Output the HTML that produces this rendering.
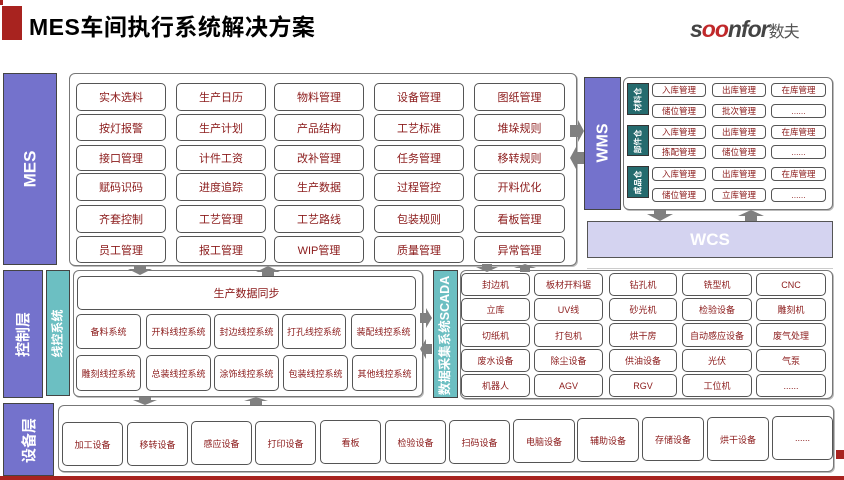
<!DOCTYPE html>
<html><head><meta charset="utf-8"><style>
*{margin:0;padding:0;box-sizing:border-box}
body{width:844px;height:480px;position:relative;background:#fff;font-family:"Liberation Sans","Noto Sans CJK SC",sans-serif;overflow:hidden}
div{position:absolute}
.c{border:1px solid #555;border-radius:5px;background:#fff;color:#8b1a1a;display:flex;align-items:center;justify-content:center;font-size:11px;white-space:nowrap}
.s{font-size:8.5px;border-radius:4px}
.m{font-size:9px}
.box{border:1px solid #777;border-radius:6px;background:#fff;box-shadow:1px 1px 0 #bbb}
.p{background:#7472cc;border:1px solid #444}
.t{background:#6cbfc2;border:1px solid #444}
.v{color:#fff;font-weight:bold;white-space:nowrap;transform:rotate(-90deg);left:50%;top:50%;position:absolute;transform-origin:center}
.g{background:#256b6e;border:1px solid #333}
</style></head><body>
<div style="left:0;top:0;width:3px;height:5px;background:#a8231f"></div>
<div style="left:2px;top:6px;width:20px;height:34px;background:#a8231f"></div>
<div style="left:29px;top:8px;font-size:23px;font-weight:bold;color:#000;letter-spacing:0.5px">MES车间执行系统解决方案</div>
<div style="left:690px;top:16px;font-size:23px;font-style:italic;font-weight:bold;color:#444;letter-spacing:-1px">s<span style="color:#c0282a">oo</span>nfor<span style="font-size:16px;font-style:normal;font-weight:normal;color:#555">数夫</span></div>

<!-- MES -->
<div class="p" style="left:3px;top:73px;width:54px;height:192px"><div class="v" style="font-size:17px;margin-left:-18px;margin-top:-10px">MES</div></div>
<div class="box" style="left:69px;top:73px;width:508px;height:193px"></div>
<div class="c" style="left:76px;top:83px;width:90px;height:28px">实木选料</div>
<div class="c" style="left:176px;top:83px;width:90px;height:28px">生产日历</div>
<div class="c" style="left:274px;top:83px;width:90px;height:28px">物料管理</div>
<div class="c" style="left:374px;top:83px;width:90px;height:28px">设备管理</div>
<div class="c" style="left:474px;top:83px;width:91px;height:28px">图纸管理</div>
<div class="c" style="left:76px;top:114px;width:90px;height:27px">按灯报警</div>
<div class="c" style="left:176px;top:114px;width:90px;height:27px">生产计划</div>
<div class="c" style="left:274px;top:114px;width:90px;height:27px">产品结构</div>
<div class="c" style="left:374px;top:114px;width:90px;height:27px">工艺标准</div>
<div class="c" style="left:474px;top:114px;width:91px;height:27px">堆垛规则</div>
<div class="c" style="left:76px;top:145px;width:90px;height:26px">接口管理</div>
<div class="c" style="left:176px;top:145px;width:90px;height:26px">计件工资</div>
<div class="c" style="left:274px;top:145px;width:90px;height:26px">改补管理</div>
<div class="c" style="left:374px;top:145px;width:90px;height:26px">任务管理</div>
<div class="c" style="left:474px;top:145px;width:91px;height:26px">移转规则</div>
<div class="c" style="left:76px;top:173px;width:90px;height:28px">赋码识码</div>
<div class="c" style="left:176px;top:173px;width:90px;height:28px">进度追踪</div>
<div class="c" style="left:274px;top:173px;width:90px;height:28px">生产数据</div>
<div class="c" style="left:374px;top:173px;width:90px;height:28px">过程管控</div>
<div class="c" style="left:474px;top:173px;width:91px;height:28px">开料优化</div>
<div class="c" style="left:76px;top:205px;width:90px;height:28px">齐套控制</div>
<div class="c" style="left:176px;top:205px;width:90px;height:28px">工艺管理</div>
<div class="c" style="left:274px;top:205px;width:90px;height:28px">工艺路线</div>
<div class="c" style="left:374px;top:205px;width:90px;height:28px">包装规则</div>
<div class="c" style="left:474px;top:205px;width:91px;height:28px">看板管理</div>
<div class="c" style="left:76px;top:236px;width:90px;height:27px">员工管理</div>
<div class="c" style="left:176px;top:236px;width:90px;height:27px">报工管理</div>
<div class="c" style="left:274px;top:236px;width:90px;height:27px">WIP管理</div>
<div class="c" style="left:374px;top:236px;width:90px;height:27px">质量管理</div>
<div class="c" style="left:474px;top:236px;width:91px;height:27px">异常管理</div>

<!-- WMS -->
<div class="p" style="left:584px;top:77px;width:37px;height:133px"><div class="v" style="font-size:16px;margin-left:-19px;margin-top:-10px">WMS</div></div>
<div class="box" style="left:623px;top:77px;width:210px;height:133px"></div>
<div class="g" style="left:627px;top:83px;width:22px;height:32px"><div class="v" style="font-size:8px;margin-left:-12px;margin-top:-5px">材料仓</div></div>
<div class="g" style="left:627px;top:125px;width:22px;height:31px"><div class="v" style="font-size:8px;margin-left:-12px;margin-top:-5px">部件仓</div></div>
<div class="g" style="left:627px;top:166px;width:22px;height:32px"><div class="v" style="font-size:8px;margin-left:-12px;margin-top:-5px">成品仓</div></div>
<div class="c s" style="left:652px;top:83px;width:54px;height:14px">入库管理</div>
<div class="c s" style="left:712px;top:83px;width:54px;height:14px">出库管理</div>
<div class="c s" style="left:771px;top:83px;width:55px;height:14px">在库管理</div>
<div class="c s" style="left:652px;top:104px;width:54px;height:14px">储位管理</div>
<div class="c s" style="left:712px;top:104px;width:54px;height:14px">批次管理</div>
<div class="c s" style="left:771px;top:104px;width:55px;height:14px">......</div>
<div class="c s" style="left:652px;top:125px;width:54px;height:14px">入库管理</div>
<div class="c s" style="left:712px;top:125px;width:54px;height:14px">出库管理</div>
<div class="c s" style="left:771px;top:125px;width:55px;height:14px">在库管理</div>
<div class="c s" style="left:652px;top:145px;width:54px;height:14px">拣配管理</div>
<div class="c s" style="left:712px;top:145px;width:54px;height:14px">储位管理</div>
<div class="c s" style="left:771px;top:145px;width:55px;height:14px">......</div>
<div class="c s" style="left:652px;top:167px;width:54px;height:14px">入库管理</div>
<div class="c s" style="left:712px;top:167px;width:54px;height:14px">出库管理</div>
<div class="c s" style="left:771px;top:167px;width:55px;height:14px">在库管理</div>
<div class="c s" style="left:652px;top:188px;width:54px;height:14px">储位管理</div>
<div class="c s" style="left:712px;top:188px;width:54px;height:14px">立库管理</div>
<div class="c s" style="left:771px;top:188px;width:55px;height:14px">......</div>
<div style="left:587px;top:221px;width:246px;height:37px;background:#d4d3f0;border:1px solid #555;color:#fff;font-weight:bold;font-size:17px;display:flex;align-items:center;justify-content:center">WCS</div>
<div style="left:587px;top:268px;width:246px;height:1px;background:#ccc"></div>

<!-- control -->
<div class="p" style="left:3px;top:270px;width:40px;height:128px"><div class="v" style="font-size:15px;margin-left:-23px;margin-top:-10px">控制层</div></div>
<div class="t" style="left:46px;top:270px;width:24px;height:126px"><div class="v" style="font-size:12px;margin-left:-25px;margin-top:-8px">线控系统</div></div>
<div class="box" style="left:73px;top:270px;width:350px;height:127px"></div>
<div class="c" style="left:77px;top:276px;width:339px;height:34px;font-size:11px">生产数据同步</div>
<div class="c m" style="left:76px;top:314px;width:65px;height:35px">备料系统</div>
<div class="c m" style="left:146px;top:314px;width:65px;height:35px">开料线控系统</div>
<div class="c m" style="left:214px;top:314px;width:65px;height:35px">封边线控系统</div>
<div class="c m" style="left:282px;top:314px;width:64px;height:35px">打孔线控系统</div>
<div class="c m" style="left:351px;top:314px;width:65px;height:35px">装配线控系统</div>
<div class="c m" style="left:76px;top:355px;width:65px;height:36px">雕刻线控系统</div>
<div class="c m" style="left:146px;top:355px;width:65px;height:36px">总装线控系统</div>
<div class="c m" style="left:214px;top:355px;width:65px;height:36px">涂饰线控系统</div>
<div class="c m" style="left:283px;top:355px;width:65px;height:36px">包装线控系统</div>
<div class="c m" style="left:352px;top:355px;width:65px;height:36px">其他线控系统</div>

<!-- SCADA -->
<div class="t" style="left:433px;top:270px;width:25px;height:128px"><div class="v" style="font-size:12.5px;margin-left:-62px;margin-top:-8px">数据采集系统SCADA</div></div>
<div class="box" style="left:460px;top:270px;width:373px;height:129px"></div>
<div class="c m" style="left:461px;top:273px;width:69px;height:23px">封边机</div>
<div class="c m" style="left:534px;top:273px;width:69px;height:23px">板材开料锯</div>
<div class="c m" style="left:609px;top:273px;width:68px;height:23px">钻孔机</div>
<div class="c m" style="left:682px;top:273px;width:70px;height:23px">铣型机</div>
<div class="c m" style="left:756px;top:273px;width:70px;height:23px">CNC</div>
<div class="c m" style="left:461px;top:298px;width:69px;height:23px">立库</div>
<div class="c m" style="left:534px;top:298px;width:69px;height:23px">UV线</div>
<div class="c m" style="left:609px;top:298px;width:68px;height:23px">砂光机</div>
<div class="c m" style="left:682px;top:298px;width:70px;height:23px">检验设备</div>
<div class="c m" style="left:756px;top:298px;width:70px;height:23px">雕刻机</div>
<div class="c m" style="left:461px;top:323px;width:69px;height:24px">切纸机</div>
<div class="c m" style="left:534px;top:323px;width:69px;height:24px">打包机</div>
<div class="c m" style="left:609px;top:323px;width:68px;height:24px">烘干房</div>
<div class="c m" style="left:682px;top:323px;width:70px;height:24px">自动感应设备</div>
<div class="c m" style="left:756px;top:323px;width:70px;height:24px">废气处理</div>
<div class="c m" style="left:461px;top:349px;width:69px;height:23px">废水设备</div>
<div class="c m" style="left:534px;top:349px;width:69px;height:23px">除尘设备</div>
<div class="c m" style="left:609px;top:349px;width:68px;height:23px">供油设备</div>
<div class="c m" style="left:682px;top:349px;width:70px;height:23px">光伏</div>
<div class="c m" style="left:756px;top:349px;width:70px;height:23px">气泵</div>
<div class="c m" style="left:461px;top:374px;width:69px;height:23px">机器人</div>
<div class="c m" style="left:534px;top:374px;width:69px;height:23px">AGV</div>
<div class="c m" style="left:609px;top:374px;width:68px;height:23px">RGV</div>
<div class="c m" style="left:682px;top:374px;width:70px;height:23px">工位机</div>
<div class="c m" style="left:756px;top:374px;width:70px;height:23px">......</div>

<!-- device -->
<div class="p" style="left:3px;top:403px;width:51px;height:73px"><div class="v" style="font-size:15px;margin-left:-23px;margin-top:-10px">设备层</div></div>
<div class="box" style="left:58px;top:405px;width:776px;height:67px"></div>
<div class="c m" style="left:62px;top:422px;width:61px;height:44px">加工设备</div>
<div class="c m" style="left:127px;top:422px;width:61px;height:44px">移转设备</div>
<div class="c m" style="left:191px;top:421px;width:61px;height:44px">感应设备</div>
<div class="c m" style="left:255px;top:421px;width:61px;height:44px">打印设备</div>
<div class="c m" style="left:320px;top:420px;width:61px;height:44px">看板</div>
<div class="c m" style="left:385px;top:420px;width:61px;height:44px">检验设备</div>
<div class="c m" style="left:449px;top:420px;width:61px;height:44px">扫码设备</div>
<div class="c m" style="left:513px;top:419px;width:62px;height:44px">电脑设备</div>
<div class="c m" style="left:577px;top:418px;width:62px;height:44px">辅助设备</div>
<div class="c m" style="left:642px;top:417px;width:62px;height:44px">存储设备</div>
<div class="c m" style="left:707px;top:417px;width:62px;height:44px">烘干设备</div>
<div class="c m" style="left:772px;top:416px;width:61px;height:44px">......</div>
<div style="left:836px;top:450px;width:8px;height:9px;background:#a8231f"></div>
<div style="left:0;top:476px;width:844px;height:4px;background:#a8231f"></div>

<svg style="position:absolute;left:0;top:0" width="844" height="480">
<g fill="#808080">
<polygon points="134,265 146,265 146,269 152,269 140,275 128,269 134,269"/>
<polygon points="262,276 274,276 274,272 280,272 268,266 256,272 262,272"/>
<polygon points="570,125 578,125 578,120 584,131 578,142 578,137 570,137"/>
<polygon points="584,152 576,152 576,147 570,158 576,169 576,164 584,164"/>
<polygon points="654,210 666,210 666,214 673,214 660,221 647,214 654,214"/>
<polygon points="745,221 757,221 757,216 764,216 751,210 738,216 745,216"/>
<polygon points="482,264 492,264 492,267 498,267 487,272 476,267 482,267"/>
<polygon points="520,272 530,272 530,268 536,268 525,264 514,268 520,268"/>
<polygon points="420,313 426,313 426,308 432,318 426,328 426,323 420,323"/>
<polygon points="432,344 426,344 426,339 420,349 426,359 426,354 432,354"/>
<polygon points="139,397 151,397 151,400 157,400 145,405 133,400 139,400"/>
<polygon points="250,405 262,405 262,401 268,401 256,397 244,401 250,401"/>
</g>
</svg>
</body></html>
